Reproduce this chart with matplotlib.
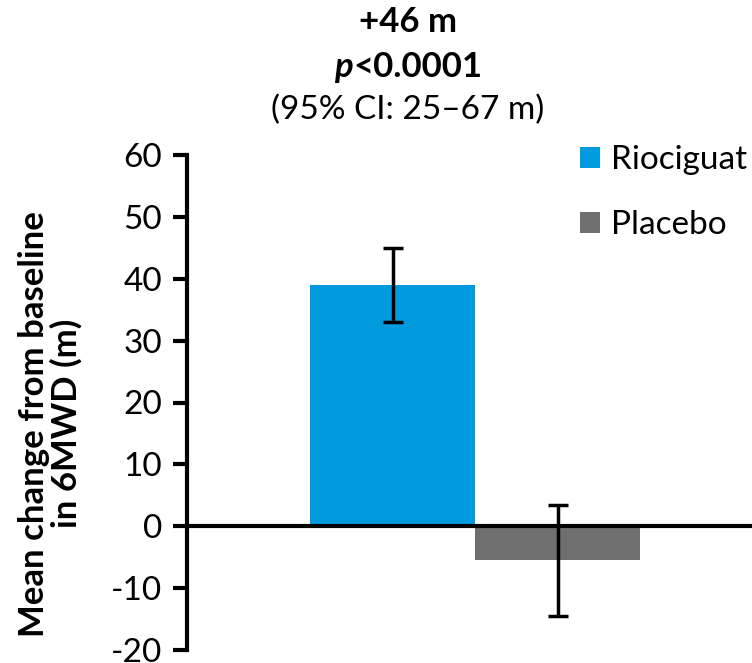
import matplotlib
matplotlib.use("Agg")
import matplotlib.pyplot as plt
from matplotlib.patches import Patch

groups = ["Riociguat", "Placebo"]
means = [39, -5.5]
errors = [6, 9]
colors = ["#009BDE", "#6F6F6F"]
yticks = [-20, -10, 0, 10, 20, 30, 40, 50, 60]

plt.rcParams['font.family'] = ['Lato', 'DejaVu Sans']

fig = plt.figure(figsize=(7.52, 6.63), dpi=100)
W, H = 752, 663
ax = fig.add_axes([187 / W, 1 - 650 / H, (752 - 187) / W, (650 - 155) / H])

x = [0, 1]
bars = ax.bar(x, means, width=1.0, color=colors, zorder=2)
ax.errorbar(x, means, yerr=errors, fmt='none', ecolor='black', elinewidth=2.5,
            capsize=7, capthick=2.5, zorder=4)
ax.axhline(0, color='black', lw=3, zorder=3)

ax.set_xlim(-1.248, 2.176)
ax.set_ylim(-20, 60)
ax.set_yticks(yticks)
ax.set_yticklabels([str(t) for t in yticks], fontsize=24)
ax.set_xticks([])
for s in ['top', 'right', 'bottom']:
    ax.spines[s].set_visible(False)
ax.spines['left'].set_linewidth(3)
ax.tick_params(axis='y', direction='out', length=10, width=3, pad=8)

ax.set_ylabel("Mean change from baseline\nin 6MWD (m)", fontsize=25, fontweight='bold',
              linespacing=1.0)
ax.yaxis.set_label_coords(-0.184, 0.457)

handles = [Patch(facecolor=c) for c in colors]
leg = ax.legend(handles, groups, loc='upper left', bbox_to_anchor=(0.695, 1.02),
                frameon=False, fontsize=24, handlelength=0.6, handleheight=0.6,
                handletextpad=0.35, labelspacing=1.05, borderpad=0, borderaxespad=0)

fig.text(408 / W, 1 - 22 / H, "+46 m", ha='center', va='center', fontsize=25, fontweight='bold')

# "p<0.0001" with bold-italic p
fig.canvas.draw()
renderer = fig.canvas.get_renderer()
t_rest = fig.text(0, 1 - 67 / H, "<0.0001", ha='left', va='center', fontsize=25,
                  fontweight='bold')
t_p = fig.text(0, 1 - 67 / H, "p", ha='left', va='center', fontsize=25,
               fontweight='bold', fontstyle='italic')
wp = t_p.get_window_extent(renderer).width
wr = t_rest.get_window_extent(renderer).width
left = 408 - (wp + wr) / 2
t_p.set_x(left / W)
t_rest.set_x((left + wp + 1) / W)

fig.text(408 / W, 1 - 110 / H, "(95% CI: 25–67 m)", ha='center', va='center', fontsize=24)

fig.savefig("out.png", dpi=100)
